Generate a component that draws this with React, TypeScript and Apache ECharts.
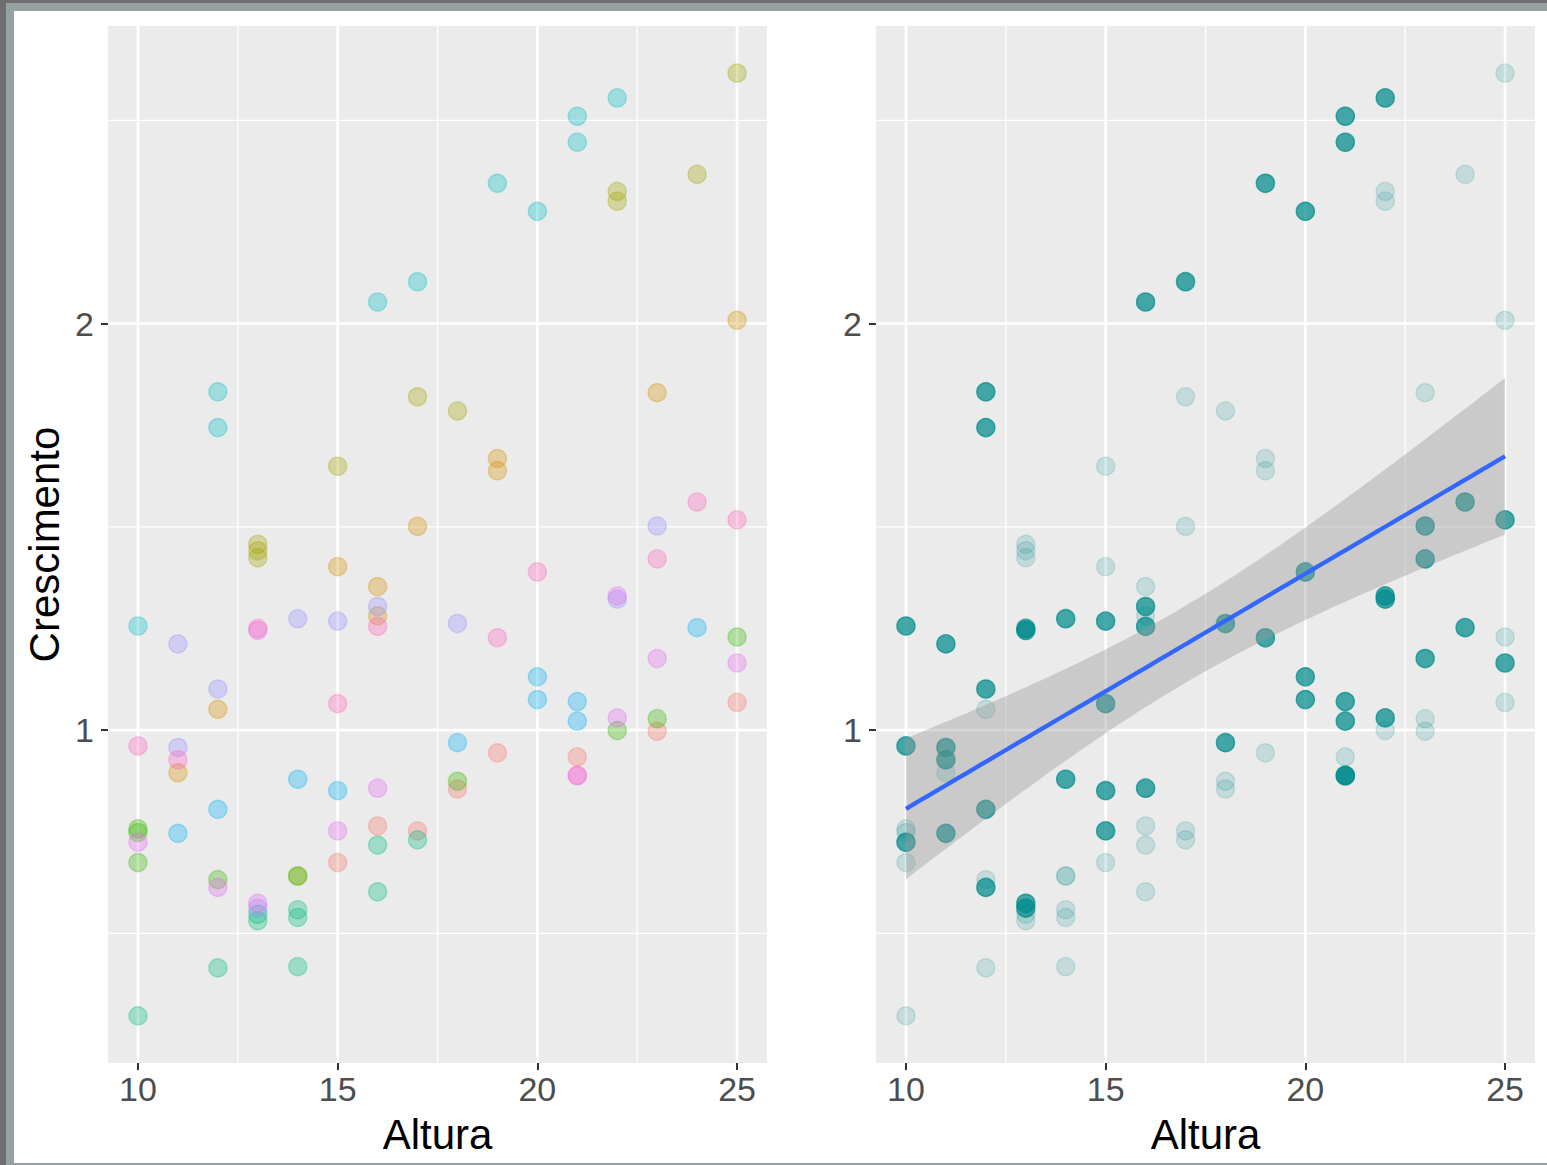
import React, { useEffect, useRef } from "react";
import * as echarts from "echarts";

const FONT = "'Liberation Sans', Arial, Helvetica, sans-serif";

// ggplot2 default hue palette for 10 groups
const GROUP_COLORS = ["#F8766D", "#D89000", "#A3A500", "#39B600", "#00BF7D", "#00BFC4", "#00B0F6", "#9590FF", "#E76BF3", "#FF62BC"];

// Altura (x) and Crescimento (y) for each group
const G1_ALTURA = [15, 16, 17, 18, 19, 21, 23, 25];
const G1_CRESC = [0.674, 0.764, 0.752, 0.855, 0.944, 0.934, 0.997, 1.068];
const G2_ALTURA = [11, 12, 15, 16, 16, 17, 19, 19, 23, 25];
const G2_CRESC = [0.895, 1.051, 1.402, 1.353, 1.281, 1.501, 1.668, 1.638, 1.83, 2.008];
const G3_ALTURA = [13, 13, 13, 14, 15, 17, 18, 22, 22, 24, 25];
const G3_CRESC = [1.457, 1.441, 1.424, 0.641, 1.649, 1.82, 1.785, 2.325, 2.301, 2.367, 2.616];
const G4_ALTURA = [10, 10, 10, 12, 14, 18, 22, 23, 25];
const G4_CRESC = [0.757, 0.748, 0.674, 0.632, 0.641, 0.874, 0.999, 1.028, 1.229];
const G5_ALTURA = [10, 12, 13, 13, 14, 14, 14, 16, 16, 17];
const G5_CRESC = [0.297, 0.415, 0.547, 0.531, 0.558, 0.539, 0.418, 0.717, 0.602, 0.73];
const G6_ALTURA = [10, 12, 12, 16, 17, 19, 20, 21, 21, 22];
const G6_CRESC = [1.256, 1.832, 1.744, 2.053, 2.103, 2.345, 2.276, 2.51, 2.446, 2.555];
const G7_ALTURA = [11, 12, 14, 15, 18, 20, 20, 21, 21, 24];
const G7_CRESC = [0.746, 0.805, 0.879, 0.851, 0.969, 1.131, 1.075, 1.07, 1.022, 1.252];
const G8_ALTURA = [11, 11, 12, 13, 14, 15, 16, 18, 22, 23];
const G8_CRESC = [1.212, 0.957, 1.101, 0.562, 1.274, 1.268, 1.304, 1.262, 1.322, 1.502];
const G9_ALTURA = [10, 12, 13, 13, 15, 16, 21, 22, 22, 23, 25];
const G9_CRESC = [0.724, 0.613, 1.245, 0.574, 0.752, 0.857, 0.887, 1.33, 1.03, 1.176, 1.165];
const G10_ALTURA = [10, 11, 13, 15, 16, 19, 20, 21, 23, 24, 25];
const G10_CRESC = [0.961, 0.927, 1.25, 1.065, 1.255, 1.227, 1.389, 0.889, 1.421, 1.561, 1.517];

const GROUPS_ALTURA = [G1_ALTURA, G2_ALTURA, G3_ALTURA, G4_ALTURA, G5_ALTURA, G6_ALTURA, G7_ALTURA, G8_ALTURA, G9_ALTURA, G10_ALTURA];
const GROUPS_CRESC = [G1_CRESC, G2_CRESC, G3_CRESC, G4_CRESC, G5_CRESC, G6_CRESC, G7_CRESC, G8_CRESC, G9_CRESC, G10_CRESC];

// groups drawn dark in the right panel
const HIGHLIGHTED = [5, 6, 7, 8, 9];

const X_TICKS = [10, 15, 20, 25];
const X_MINOR = [12.5, 17.5, 22.5];
const Y_TICKS = [1, 2];
const Y_MINOR = [0.5, 1.5, 2.5];
const X_TITLE = "Altura";
const Y_TITLE = "Crescimento";
const T_975 = 1.9845; // t quantile (0.975, df = 98) used by the lm confidence band

function rgba(hex: string, a: number) {
  const r = parseInt(hex.slice(1, 3), 16);
  const g = parseInt(hex.slice(3, 5), 16);
  const b = parseInt(hex.slice(5, 7), 16);
  return `rgba(${r},${g},${b},${a})`;
}

export default function App() {
  const ref = useRef<HTMLDivElement>(null);

  useEffect(() => {
    if (!ref.current) return;
    const chart = echarts.init(ref.current, null, { renderer: "svg" });

    const allX = GROUPS_ALTURA.flat();
    const allY = GROUPS_CRESC.flat();
    const xMinD = Math.min(...allX), xMaxD = Math.max(...allX);
    const yMinD = Math.min(...allY), yMaxD = Math.max(...allY);
    const xLo = xMinD - 0.05 * (xMaxD - xMinD), xHi = xMaxD + 0.05 * (xMaxD - xMinD);
    const yLo = yMinD - 0.05 * (yMaxD - yMinD), yHi = yMaxD + 0.05 * (yMaxD - yMinD);

    // linear model (geom_smooth method = "lm") on all points
    const n = allX.length;
    const mx = allX.reduce((s, v) => s + v, 0) / n;
    const my = allY.reduce((s, v) => s + v, 0) / n;
    let sxx = 0, sxy = 0;
    for (let i = 0; i < n; i++) { sxx += (allX[i] - mx) ** 2; sxy += (allX[i] - mx) * (allY[i] - my); }
    const slope = sxy / sxx;
    const icpt = my - slope * mx;
    let sse = 0;
    for (let i = 0; i < n; i++) sse += (allY[i] - (icpt + slope * allX[i])) ** 2;
    const sRes = Math.sqrt(sse / (n - 2));
    const fitXs: number[] = [];
    for (let k = 0; k <= 80; k++) fitXs.push(xMinD + ((xMaxD - xMinD) * k) / 80);
    const fitY = fitXs.map((x) => icpt + slope * x);
    const half = fitXs.map((x) => T_975 * sRes * Math.sqrt(1 / n + (x - mx) ** 2 / sxx));
    const upper = fitY.map((y, i) => y + half[i]);
    const lower = fitY.map((y, i) => y - half[i]);

    const gridLeft = [108, 876];
    const grids = gridLeft.map((l) => ({
      left: l, top: 26, width: 659, height: 1037,
      show: true, backgroundColor: "#EBEBEB", borderWidth: 0,
    }));

    const xAxes = [0, 1].map((gi) => ({
      type: "value", gridIndex: gi, min: xLo, max: xHi,
      axisLine: { show: false },
      axisTick: { show: true, customValues: X_TICKS, length: 7, lineStyle: { color: "#333333", width: 2 } },
      axisLabel: { customValues: X_TICKS, fontSize: 34, color: "#4D4D4D", fontFamily: FONT, margin: 9 },
      splitLine: { show: false },
      name: X_TITLE, nameLocation: "middle", nameGap: 50,
      nameTextStyle: { fontSize: 42, color: "#000000", fontFamily: FONT },
    }));

    const yAxes = [0, 1].map((gi) => ({
      type: "value", gridIndex: gi, min: yLo, max: yHi,
      axisLine: { show: false },
      axisTick: { show: true, customValues: Y_TICKS, length: 7, lineStyle: { color: "#333333", width: 2 } },
      axisLabel: { customValues: Y_TICKS, fontSize: 34, color: "#4D4D4D", fontFamily: FONT, margin: 14 },
      splitLine: { show: false },
      name: gi === 0 ? Y_TITLE : "", nameLocation: "middle", nameGap: 43, nameRotate: 90,
      nameTextStyle: { fontSize: 42, color: "#000000", fontFamily: FONT },
    }));

    const gridLines = (gi: number, values: number[], vertical: boolean, width: number) => ({
      type: "custom", xAxisIndex: gi, yAxisIndex: gi, silent: true, z: 1,
      data: values.map((v) => (vertical ? [v, yLo] : [xLo, v])),
      encode: { x: 0, y: 1 },
      renderItem: (params: any, api: any) => {
        const cs = params.coordSys;
        const p = api.coord([api.value(0), api.value(1)]);
        const shape = vertical
          ? { x1: p[0], y1: cs.y, x2: p[0], y2: cs.y + cs.height }
          : { x1: cs.x, y1: p[1], x2: cs.x + cs.width, y2: p[1] };
        return { type: "line", shape, style: { stroke: "#FFFFFF", lineWidth: width } };
      },
    });

    const series: any[] = [];
    [0, 1].forEach((gi) => {
      series.push(gridLines(gi, X_MINOR, true, 1.3));
      series.push(gridLines(gi, Y_MINOR, false, 1.3));
      series.push(gridLines(gi, X_TICKS, true, 2.6));
      series.push(gridLines(gi, Y_TICKS, false, 2.6));
    });

    GROUPS_ALTURA.forEach((xs, g) => {
      series.push({
        type: "scatter", xAxisIndex: 0, yAxisIndex: 0, silent: true, z: 2,
        data: xs.map((x, i) => [x, GROUPS_CRESC[g][i]]),
        symbol: "circle", symbolSize: 18,
        itemStyle: { color: rgba(GROUP_COLORS[g], 0.4), borderColor: rgba(GROUP_COLORS[g], 0.4), borderWidth: 1.5 },
      });
    });

    const lightPts: number[][] = [];
    const darkPts: number[][] = [];
    GROUPS_ALTURA.forEach((xs, g) => {
      xs.forEach((x, i) => {
        (HIGHLIGHTED.includes(g) ? darkPts : lightPts).push([x, GROUPS_CRESC[g][i]]);
      });
    });
    series.push({
      type: "scatter", xAxisIndex: 1, yAxisIndex: 1, silent: true, z: 2,
      data: lightPts, symbol: "circle", symbolSize: 18,
      itemStyle: { color: "rgba(0,139,139,0.2)", borderColor: "rgba(0,139,139,0.2)", borderWidth: 1.5 },
    });
    series.push({
      type: "scatter", xAxisIndex: 1, yAxisIndex: 1, silent: true, z: 3,
      data: darkPts, symbol: "circle", symbolSize: 18,
      itemStyle: { color: "rgba(0,139,139,0.9)", borderColor: "rgba(0,139,139,0.9)", borderWidth: 1.5 },
    });

    series.push({
      type: "custom", xAxisIndex: 1, yAxisIndex: 1, silent: true, z: 4,
      data: [[fitXs[0], lower[0]]],
      encode: { x: 0, y: 1 },
      renderItem: (params: any, api: any) => {
        const pts: number[][] = [];
        fitXs.forEach((x, i) => pts.push(api.coord([x, upper[i]])));
        for (let i = fitXs.length - 1; i >= 0; i--) pts.push(api.coord([fitXs[i], lower[i]]));
        return { type: "polygon", shape: { points: pts }, style: { fill: "rgba(153,153,153,0.4)" } };
      },
    });

    series.push({
      type: "line", xAxisIndex: 1, yAxisIndex: 1, silent: true, z: 5,
      data: fitXs.map((x, i) => [x, fitY[i]]),
      symbol: "none", lineStyle: { color: "#3366FF", width: 4.3 },
    });

    chart.setOption({
      animation: false,
      backgroundColor: "#FFFFFF",
      grid: grids,
      xAxis: xAxes,
      yAxis: yAxes,
      series,
      graphic: [
        { type: "rect", shape: { x: 0, y: 0, width: 6, height: 1165 }, style: { fill: "#6F6F6F" }, z: 100 },
        { type: "rect", shape: { x: 0, y: 0, width: 1547, height: 3 }, style: { fill: "#6F6F6F" }, z: 100 },
        { type: "rect", shape: { x: 6, y: 3, width: 8, height: 1162 }, style: { fill: "#94A3A2" }, z: 100 },
        { type: "rect", shape: { x: 6, y: 3, width: 1541, height: 8 }, style: { fill: "#94A3A2" }, z: 100 },
        { type: "rect", shape: { x: 6, y: 1163, width: 1541, height: 2 }, style: { fill: "#94A3A2" }, z: 100 },
      ],
    });

    return () => chart.dispose();
  }, []);

  return (
    <div
      ref={ref}
      style={{ position: "absolute", left: 0, top: 0, width: 1547, height: 1165 }}
    />
  );
}
